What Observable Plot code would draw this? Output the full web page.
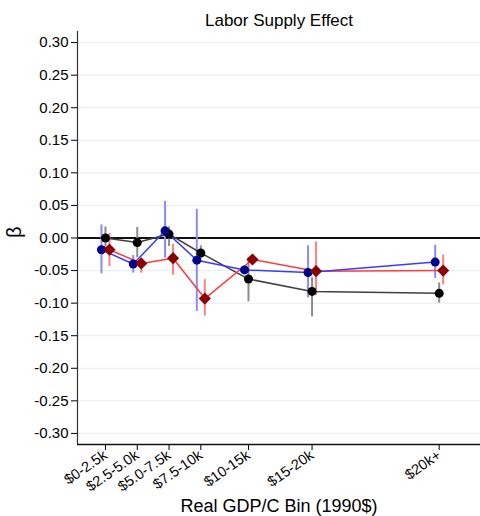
<!DOCTYPE html>
<html>
<head>
<meta charset="utf-8">
<script src="https://cdn.jsdelivr.net/npm/d3@7"></script>
<script src="https://cdn.jsdelivr.net/npm/@observablehq/plot@0.6"></script>
<style>
  html, body { margin: 0; padding: 0; background: #fff; }
  #chart svg { display: block; font-family: "Liberation Sans", Arial, sans-serif; }
</style>
</head>
<body>
<div id="chart"></div>
<script>
// ---- data ----
const binLabels = ["$0-2.5k", "$2.5-5.0k", "$5.0-7.5k", "$7.5-10k", "$10-15k", "$15-20k", "$20k+"];
const binX = [1.25, 3.75, 6.25, 8.75, 12.5, 17.5, 27.5];

const blackBeta = [0.000, -0.007, 0.006, -0.023, -0.063, -0.082, -0.085];
const blackLo   = [-0.017, -0.030, -0.013, -0.032, -0.098, -0.121, -0.100];
const blackHi   = [0.017, 0.016, 0.017, -0.012, -0.030, -0.061, -0.069];

const blueBeta = [-0.018, -0.040, 0.011, -0.034, -0.049, -0.053, -0.037];
const blueLo   = [-0.055, -0.054, -0.031, -0.113, -0.055, -0.092, -0.062];
const blueHi   = [0.020, -0.027, 0.056, 0.044, -0.043, -0.012, -0.011];

const redBeta = [-0.018, -0.039, -0.031, -0.093, -0.033, -0.051, -0.050];
const redLo   = [-0.044, -0.054, -0.057, -0.120, -0.041, -0.088, -0.072];
const redHi   = [0.007, -0.033, -0.010, -0.064, -0.026, -0.006, -0.026];

const yTicks = [-0.30, -0.25, -0.20, -0.15, -0.10, -0.05, 0.00, 0.05, 0.10, 0.15, 0.20, 0.25, 0.30];
const gridVals = yTicks.filter(v => v !== 0);

const title = "Labor Supply Effect";
const xTitle = "Real GDP/C Bin (1990$)";
const yTitle = "β";

// ---- build rows ----
const mk = (beta, lo, hi) => binX.map((x, i) => ({x, label: binLabels[i], beta: beta[i], lo: lo[i], hi: hi[i]}));
const black = mk(blackBeta, blackLo, blackHi);
const blue = mk(blueBeta, blueLo, blueHi);
const red = mk(redBeta, redLo, redHi);

const xDomain = [-0.95, 30.75];
const yDomain = [-0.317, 0.317];
const font = "Liberation Sans, Arial, sans-serif";

const plot = Plot.plot({
  width: 480,
  height: 516,
  marginLeft: 77,
  marginRight: 0,
  marginTop: 31,
  marginBottom: 72,
  style: {fontFamily: font, fontSize: "15px", color: "black", background: "white", overflow: "visible"},
  x: {type: "linear", domain: xDomain},
  y: {domain: yDomain},
  marks: [
    Plot.ruleY(gridVals, {stroke: "#e5eef1", strokeWidth: 1}),
    Plot.ruleY([0], {stroke: "#111", strokeWidth: 2}),
    // confidence intervals
    Plot.ruleX(black, {x: "x", y1: "lo", y2: "hi", stroke: "#8c8c8c", strokeWidth: 2}),
    Plot.ruleX(blue, {x: "x", y1: "lo", y2: "hi", stroke: "#8a8aff", strokeWidth: 2, dx: -4}),
    Plot.ruleX(red, {x: "x", y1: "lo", y2: "hi", stroke: "#ff8080", strokeWidth: 2, dx: 4}),
    // connecting lines
    Plot.line(black, {x: "x", y: "beta", stroke: "#404040", strokeWidth: 1.5}),
    Plot.line(red, {x: "x", y: "beta", stroke: "#ff3b3b", strokeWidth: 1.5, dx: 4}),
    Plot.line(blue, {x: "x", y: "beta", stroke: "#3b3bff", strokeWidth: 1.5, dx: -4}),
    // points
    Plot.dot(black, {x: "x", y: "beta", r: 4.5, fill: "black", stroke: "none"}),
    Plot.dot(blue, {x: "x", y: "beta", r: 4.5, fill: "#00008b", stroke: "none", dx: -4}),
    Plot.dot(red, {x: "x", y: "beta", r: 5.5, symbol: "diamond2", fill: "#8b0000", stroke: "none", dx: 4}),
    // axis lines
    Plot.ruleX([xDomain[0]], {stroke: "#333", strokeWidth: 1.2}),
    Plot.ruleY([yDomain[0]], {stroke: "#111", strokeWidth: 1.5}),
    // axes
    Plot.axisY({ticks: yTicks, tickFormat: d => d.toFixed(2), tickSize: 6, tickPadding: 3, fontSize: 15, label: null}),
    Plot.axisX({ticks: binX, tickFormat: d => binLabels[binX.indexOf(d)], tickSize: 6, tickRotate: -35, tickPadding: 3, fontSize: 14.5, label: null}),
    // titles
    Plot.text([title], {frameAnchor: "top", text: d => d, dy: -18, fontSize: 17}),
    Plot.text([xTitle], {frameAnchor: "bottom", text: d => d, dy: 67, fontSize: 18}),
    Plot.text([yTitle], {frameAnchor: "left", text: d => d, dx: -63, rotate: -90, fontSize: 20})
  ]
});
document.getElementById("chart").appendChild(plot);
</script>
</body>
</html>
